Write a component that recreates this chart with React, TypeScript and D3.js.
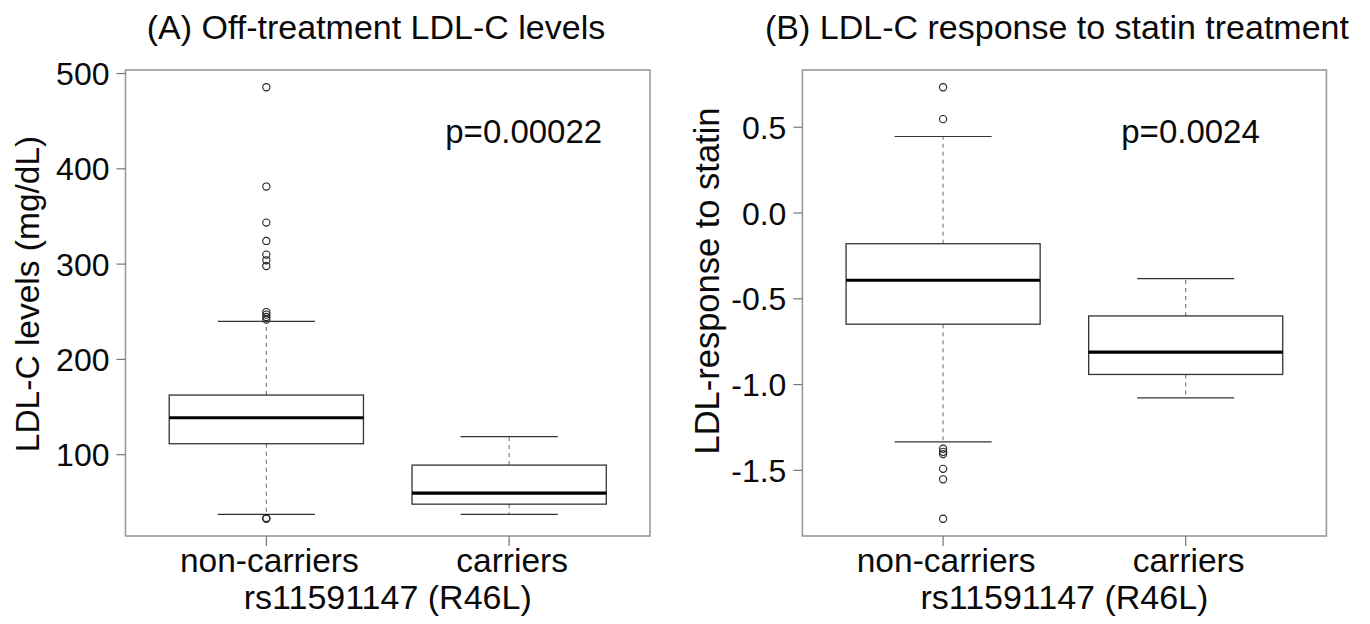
import React from "react";
import * as d3 from "d3";

// ---------- data ----------
const categories = ["non-carriers", "carriers"];

// Panel A: off-treatment LDL-C levels (mg/dL)
const ldlLowerWhisker = [37.3, 37.3];
const ldlQ1 = [111.5, 48.1];
const ldlMedian = [138.8, 59.7];
const ldlQ3 = [162.6, 89.1];
const ldlUpperWhisker = [240, 118.9];
const ldlOutliersNonCarriers = [485.6, 381.4, 343.6, 324.3, 310, 304, 298, 249.7, 247, 244.5, 241.7, 33.5, 32.8];
const ldlOutliersCarriers: number[] = [];
const ldlTicks = [100, 200, 300, 400, 500];
const ldlTickLabels = ["100", "200", "300", "400", "500"];

// Panel B: LDL-C response to statin
const respLowerWhisker = [-1.334, -1.077];
const respQ1 = [-0.648, -0.941];
const respMedian = [-0.392, -0.811];
const respQ3 = [-0.179, -0.6];
const respUpperWhisker = [0.446, -0.382];
const respOutliersNonCarriers = [0.733, 0.547, -1.374, -1.392, -1.405, -1.491, -1.552, -1.782];
const respOutliersCarriers: number[] = [];
const respTicks = [-1.5, -1.0, -0.5, 0.0, 0.5];
const respTickLabels = ["-1.5", "-1.0", "-0.5", "0.0", "0.5"];

const FONT = "'Liberation Sans', Arial, Helvetica, sans-serif";
const INK = "#0a0a0a";

type PanelProps = {
  title: string;
  titleX: number;
  ylab: string;
  ylabX: number;
  ylabY: number;
  ylabSize: number;
  left: number;
  right: number;
  top: number;
  bottom: number;
  low: number[];
  q1: number[];
  med: number[];
  q3: number[];
  high: number[];
  outliers: number[][];
  ticks: number[];
  tickLabels: string[];
  pText: string;
  pX: number;
  pY: number;
};

function Panel(p: PanelProps) {
  const all = [...p.low, ...p.high, ...p.outliers.flat()];
  const mn = d3.min(all) as number;
  const mx = d3.max(all) as number;
  const ext = (mx - mn) * 0.04;
  const y = d3.scaleLinear().domain([mn - ext, mx + ext]).range([p.bottom, p.top]);
  const x = d3.scaleLinear().domain([0.42, 2.58]).range([p.left, p.right]);
  const bw = 0.4;
  const cw = 0.2;
  const tickLen = 9;
  return (
    <g>
      {/* title */}
      <text x={p.titleX} y={39} textAnchor="middle" fontSize={34} fill={INK} fontFamily={FONT}>
        {p.title}
      </text>
      {/* frame */}
      <rect x={p.left} y={p.top} width={p.right - p.left} height={p.bottom - p.top} fill="none" stroke="#999" strokeWidth={1.6} />
      {/* y ticks */}
      {p.ticks.map((t, i) => (
        <g key={"yt" + i}>
          <line x1={p.left - tickLen} x2={p.left} y1={y(t)} y2={y(t)} stroke="#777" strokeWidth={1.2} />
          <text x={p.left - 16} y={y(t)} dy="0.36em" textAnchor="end" fontSize={32} fill={INK} fontFamily={FONT}>
            {p.tickLabels[i]}
          </text>
        </g>
      ))}
      {/* y label */}
      <text
        transform={`translate(${p.ylabX},${p.ylabY}) rotate(-90)`}
        textAnchor="middle"
        fontSize={p.ylabSize}
        fill={INK}
        fontFamily={FONT}
      >
        {p.ylab}
      </text>
      {/* x ticks & labels */}
      {categories.map((c, i) => (
        <g key={"xt" + i}>
          <line x1={x(i + 1)} x2={x(i + 1)} y1={p.bottom} y2={p.bottom + 10} stroke="#777" strokeWidth={1.2} />
          <text x={x(i + 1) + 3} y={572} textAnchor="middle" fontSize={33.5} fill={INK} fontFamily={FONT}>
            {c}
          </text>
        </g>
      ))}
      <text x={(p.left + p.right) / 2} y={609} textAnchor="middle" fontSize={34} fill={INK} fontFamily={FONT}>
        rs11591147 (R46L)
      </text>
      {/* boxes */}
      {categories.map((c, i) => {
        const cx = x(i + 1);
        return (
          <g key={"b" + i}>
            <line x1={cx} x2={cx} y1={y(p.q3[i])} y2={y(p.high[i])} stroke="#777" strokeWidth={1.1} strokeDasharray="4,4" />
            <line x1={cx} x2={cx} y1={y(p.q1[i])} y2={y(p.low[i])} stroke="#777" strokeWidth={1.1} strokeDasharray="4,4" />
            <line x1={x(i + 1 - cw)} x2={x(i + 1 + cw)} y1={y(p.high[i])} y2={y(p.high[i])} stroke="#333" strokeWidth={1.2} />
            <line x1={x(i + 1 - cw)} x2={x(i + 1 + cw)} y1={y(p.low[i])} y2={y(p.low[i])} stroke="#333" strokeWidth={1.2} />
            <rect
              x={x(i + 1 - bw)}
              y={y(p.q3[i])}
              width={x(i + 1 + bw) - x(i + 1 - bw)}
              height={y(p.q1[i]) - y(p.q3[i])}
              fill="white"
              stroke="#333"
              strokeWidth={1.3}
            />
            <line x1={x(i + 1 - bw)} x2={x(i + 1 + bw)} y1={y(p.med[i])} y2={y(p.med[i])} stroke="#000" strokeWidth={3.2} />
            {p.outliers[i].map((o, j) => (
              <circle key={j} cx={cx} cy={y(o)} r={3.6} fill="none" stroke="#222" strokeWidth={1.1} />
            ))}
          </g>
        );
      })}
      {/* p value */}
      <text x={x(p.pX)} y={y(p.pY)} dy="0.36em" textAnchor="middle" fontSize={33} fill={INK} fontFamily={FONT}>
        {p.pText}
      </text>
    </g>
  );
}

export default function App() {
  return (
    <svg width={1370} height={624} style={{ position: "absolute", left: 0, top: 0, background: "white" }}>
      <rect x={0} y={0} width={1370} height={624} fill="white" />
      <Panel
        title="(A) Off-treatment LDL-C levels"
        titleX={376}
        ylab="LDL-C levels (mg/dL)"
        ylabX={39}
        ylabY={294}
        ylabSize={33.5}
        left={125.5}
        right={650}
        top={70}
        bottom={536}
        low={ldlLowerWhisker}
        q1={ldlQ1}
        med={ldlMedian}
        q3={ldlQ3}
        high={ldlUpperWhisker}
        outliers={[ldlOutliersNonCarriers, ldlOutliersCarriers]}
        ticks={ldlTicks}
        tickLabels={ldlTickLabels}
        pText="p=0.00022"
        pX={2.06}
        pY={440}
      />
      <Panel
        title="(B) LDL-C response to statin treatment"
        titleX={1057}
        ylab="LDL-response to statin"
        ylabX={719}
        ylabY={281}
        ylabSize={34.5}
        left={802.4}
        right={1326.4}
        top={70}
        bottom={536}
        low={respLowerWhisker}
        q1={respQ1}
        med={respMedian}
        q3={respQ3}
        high={respUpperWhisker}
        outliers={[respOutliersNonCarriers, respOutliersCarriers]}
        ticks={respTicks}
        tickLabels={respTickLabels}
        pText="p=0.0024"
        pX={2.02}
        pY={0.475}
      />
    </svg>
  );
}
